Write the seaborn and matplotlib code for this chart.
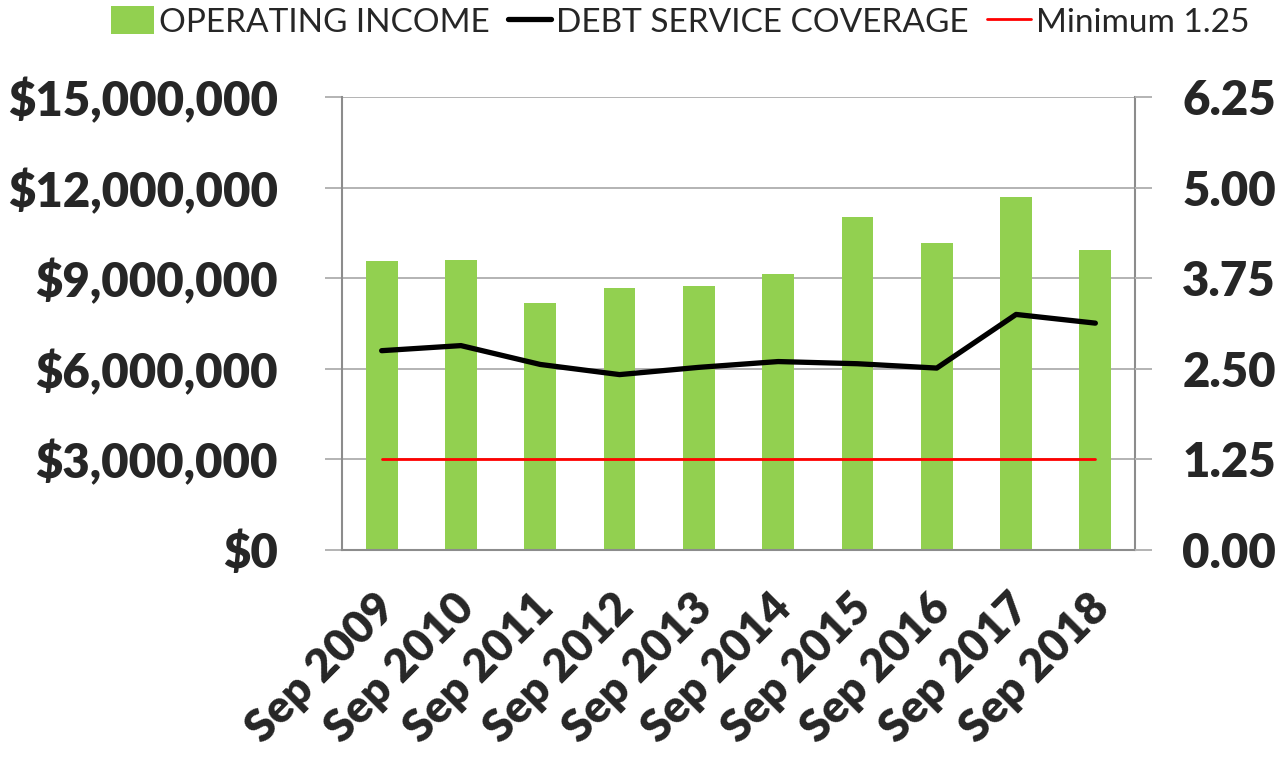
import numpy as np
import pandas as pd
import matplotlib
matplotlib.use('Agg')
import matplotlib.pyplot as plt
import matplotlib.transforms as mtransforms
import seaborn as sns
from matplotlib.ticker import FuncFormatter
from matplotlib.patches import Patch
from matplotlib.lines import Line2D

# data
years = ['Sep 2009', 'Sep 2010', 'Sep 2011', 'Sep 2012', 'Sep 2013',
         'Sep 2014', 'Sep 2015', 'Sep 2016', 'Sep 2017', 'Sep 2018']
operating_income = [9580000, 9600000, 8170000, 8670000, 8730000,
                    9150000, 11030000, 10180000, 11690000, 9930000]
debt_service_coverage = [2.75, 2.82, 2.56, 2.42, 2.52, 2.60, 2.57, 2.51, 3.25, 3.13]
minimum_coverage = 1.25

df = pd.DataFrame({'year': years,
                   'income': operating_income,
                   'dscr': debt_service_coverage})
df['minimum'] = minimum_coverage

green = '#92D050'
grid_grey = '#B3B3B3'
axis_grey = '#8C8C8C'

sns.set_style('white')
plt.rcParams['font.family'] = ['Lato', 'DejaVu Sans']

fig = plt.figure(figsize=(12.85, 7.59), dpi=100)
ax = fig.add_axes([342 / 1285, 1 - 550 / 759, (1135 - 342) / 1285, (550 - 97) / 759])

# bars - operating income
sns.barplot(data=df, x='year', y='income', color=green, width=0.4,
            saturation=1, linewidth=0, ax=ax)
ax.set_xlim(-0.5, len(years) - 0.5)
ax.set_ylim(0, 15000000)
ax.set_yticks(np.arange(0, 15000001, 3000000))
ax.yaxis.set_major_formatter(FuncFormatter(lambda v, p: '${:,.0f}'.format(v)))
ax.yaxis.grid(True, color=grid_grey, lw=1.4)
ax.set_axisbelow(True)
ax.set_xlabel('')
ax.set_ylabel('')

for s in ['left', 'right', 'bottom']:
    ax.spines[s].set_color(axis_grey)
    ax.spines[s].set_linewidth(1.5)
ax.spines['top'].set_visible(False)

ax.tick_params(axis='y', length=12, width=1.4, color=grid_grey, pad=34,
               labelsize=34)
for t in ax.get_yticklabels():
    t.set_fontweight('heavy')

# x: category boundary ticks + rotated labels
ax.set_xticks(np.arange(-0.5, len(years), 1), minor=True)
ax.tick_params(axis='x', which='minor', length=12, width=1.4, color=grid_grey)
ax.tick_params(axis='x', which='major', length=0, pad=26)
ax.set_xticks(range(len(years)))
ax.set_xticklabels(years, rotation=45, ha='right', rotation_mode='anchor',
                   fontsize=32.5, fontweight='heavy')
shift = mtransforms.ScaledTranslation(-0.08, 0, fig.dpi_scale_trans)
for t in ax.get_xticklabels():
    t.set_transform(t.get_transform() + shift)

# right axis - debt service coverage
ax2 = ax.twinx()
sns.lineplot(data=df, x='year', y='dscr', color='black', lw=3.8, sort=False,
             ax=ax2, solid_capstyle='round')
sns.lineplot(data=df, x='year', y='minimum', color='red', lw=2, sort=False,
             ax=ax2)
ax2.set_xlim(-0.5, len(years) - 0.5)
ax2.set_ylim(0, 6.25)
ax2.set_yticks(np.arange(0, 6.26, 1.25))
ax2.yaxis.set_major_formatter(FuncFormatter(lambda v, p: '{:.2f}'.format(v)))
ax2.set_ylabel('')
ax2.set_xlabel('')
for s in ax2.spines.values():
    s.set_visible(False)
ax2.tick_params(axis='y', length=12, width=1.4, color=grid_grey, pad=22,
                labelsize=34)
for t in ax2.get_yticklabels():
    t.set_fontweight('heavy')

handles = [Patch(facecolor=green, edgecolor='none'),
           Line2D([], [], color='black', lw=3.8, solid_capstyle='round'),
           Line2D([], [], color='red', lw=2)]
labels = ['OPERATING INCOME', 'DEBT SERVICE COVERAGE', 'Minimum 1.25']
fig.legend(handles, labels, loc='center', bbox_to_anchor=(680 / 1285, 1 - 22 / 759),
           ncol=3, frameon=False, fontsize=24, handlelength=1.3,
           handletextpad=0.15, columnspacing=0.55, handleheight=0.9)

fig.savefig('out.png', dpi=100)
